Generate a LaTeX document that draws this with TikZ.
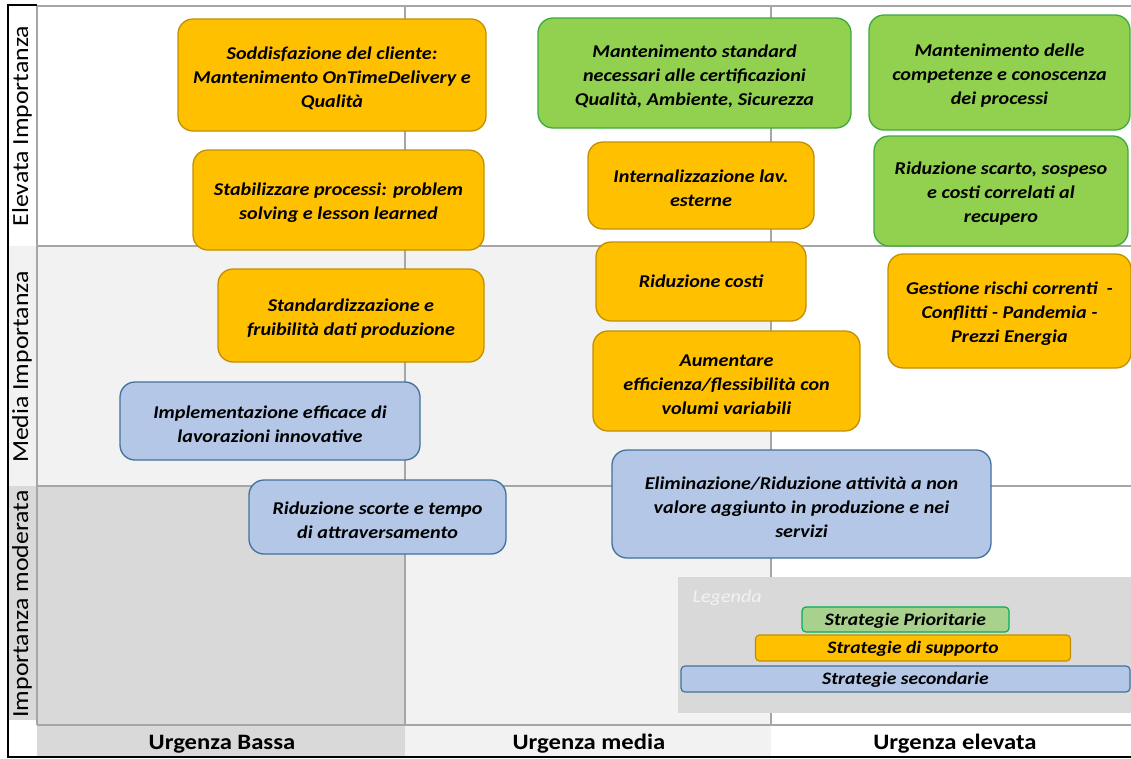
\documentclass[tikz,border=0pt]{standalone}
\usepackage{fontspec}
\setmainfont[FakeStretch=1.12]{Carlito}
\definecolor{gridline}{HTML}{A6A6A6}
\definecolor{bgdark}{HTML}{D9D9D9}
\definecolor{bglight}{HTML}{F2F2F2}
\definecolor{orfill}{HTML}{FFC000}
\definecolor{ordraw}{HTML}{C09000}
\definecolor{grfill}{HTML}{92D050}
\definecolor{grdraw}{HTML}{3DAA3D}
\definecolor{blfill}{HTML}{B4C7E7}
\definecolor{bldraw}{HTML}{41719C}
\definecolor{lgfill}{HTML}{A9D18E}
\definecolor{lgdraw}{HTML}{00B050}
% extra room above the first line of a card, so its text sits a little lower
\newcommand\cardstrut{\rule{0pt}{18.5pt}}
\tikzset{
  card/.style={rounded corners=15pt, line width=1.3pt, inner sep=0pt, align=center,
    font=\fontsize{18}{24}\selectfont\bfseries\itshape},
  orcard/.style={card, fill=orfill, draw=ordraw},
  grcard/.style={card, fill=grfill, draw=grdraw},
  blcard/.style={card, fill=blfill, draw=bldraw},
  legbar/.style={rounded corners=4pt, line width=1.2pt, inner sep=0pt,
    font=\fontsize{17.5}{17.5}\selectfont\bfseries\itshape},
  rowlabel/.style={rotate=90, font=\fontsize{23}{23}\selectfont},
  collabel/.style={font=\fontsize{22}{22}\selectfont\bfseries},
  grid/.style={draw=gridline, line width=2pt},
}
\begin{document}
\begin{tikzpicture}[x=1pt, y=-1pt]
\useasboundingbox (0,0) rectangle (1131,758);
% cell backgrounds
\fill[bglight] (37,246) rectangle (771,486);
\fill[bglight] (405,486) rectangle (771,725);
\fill[bgdark] (37,486) rectangle (405,725);
% label column and label row backgrounds
\fill[bglight] (8,246) rectangle (37,486);
\fill[bgdark] (8,486) rectangle (37,720);
\fill[bgdark] (37,725) rectangle (405,757);
\fill[bglight] (405,725) rectangle (771,757);
% grid
\draw[grid] (37,6) -- (1131,6);
\draw[grid] (37,6) -- (37,725);
\draw[grid] (37,725) -- (1131,725);
\draw[grid] (405,6) -- (405,725);
\draw[grid] (771,6) -- (771,725);
\draw[grid] (37,246) -- (1131,246);
\draw[grid] (37,486) -- (1131,486);
% outer frame
\draw[line width=1.5pt] (37,5) -- (8,5) -- (8,757) -- (1131,757);
% axis labels
\node[rowlabel] (r1) at (22,126) {Elevata Importanza};
\node[rowlabel] (r2) at (22,367) {Media Importanza};
\node[rowlabel] (r3) at (22,604) {Importanza moderata};
\node[collabel] (c1) at (222,744) {Urgenza Bassa};
\node[collabel] (c2) at (589,744) {Urgenza media};
\node[collabel] (c3) at (955,744) {Urgenza elevata};
% legend
\fill[bgdark] (678,577) rectangle (1131,713);
\node[anchor=west, text=bglight, font=\fontsize{18}{18}\selectfont\itshape] (leg) at (689,598) {Legenda};
\node[legbar, fill=lgfill, draw=lgdraw, minimum width=207pt, minimum height=25pt] (l1) at (905.5,619.5) {\rule{0pt}{14pt}Strategie Prioritarie};
\node[legbar, fill=orfill, draw=ordraw, minimum width=315pt, minimum height=26pt] (l2) at (913,648) {\rule{0pt}{14pt}Strategie di supporto};
\node[legbar, fill=blfill, draw=bldraw, minimum width=449pt, minimum height=26pt] (l3) at (905.5,679) {\rule{0pt}{14pt}Strategie secondarie};
% strategy cards
\node[orcard, minimum width=308pt, minimum height=112pt] (sod) at (332,75) {\cardstrut Soddisfazione del cliente:\\Mantenimento OnTimeDelivery e\\Qualità};
\node[orcard, minimum width=291pt, minimum height=100pt] (stab) at (338.5,200) {\cardstrut Stabilizzare processi: problem\\solving e lesson learned};
\node[grcard, minimum width=313pt, minimum height=110pt] (mstd) at (694.5,73) {\cardstrut Mantenimento standard\\necessari alle certificazioni\\Qualità, Ambiente, Sicurezza};
\node[grcard, minimum width=261pt, minimum height=115pt] (mcomp) at (999.5,72.5) {\cardstrut Mantenimento delle\\competenze e conoscenza\\dei processi};
\node[orcard, minimum width=226pt, minimum height=87pt] (intern) at (701,185.5) {\cardstrut Internalizzazione lav.\\esterne};
\node[grcard, minimum width=254pt, minimum height=110pt] (scarto) at (1001,191) {\cardstrut Riduzione scarto, sospeso\\e costi correlati al\\recupero};
\node[orcard, minimum width=210pt, minimum height=79pt] (costi) at (701,281.5) {Riduzione costi};
\node[orcard, minimum width=243pt, minimum height=114pt] (rischi) at (1009.5,311) {\cardstrut Gestione rischi correnti~~-\\Conflitti - Pandemia -\\Prezzi Energia};
\node[orcard, minimum width=266pt, minimum height=93pt] (stdz) at (351,315.5) {\cardstrut Standardizzazione e\\fruibilità dati produzione};
\node[orcard, minimum width=267pt, minimum height=100pt] (aum) at (726.5,381) {\cardstrut Aumentare\\efficienza/flessibilità con\\volumi variabili};
\node[blcard, minimum width=300pt, minimum height=78pt] (impl) at (270,421) {\cardstrut Implementazione efficace di\\lavorazioni innovative};
\node[blcard, minimum width=257pt, minimum height=74pt] (scorte) at (377.5,517) {\cardstrut Riduzione scorte e tempo\\di attraversamento};
\node[blcard, minimum width=379pt, minimum height=108pt] (elim) at (801.5,504) {\cardstrut Eliminazione/Riduzione attività a non\\valore aggiunto in produzione e nei\\servizi};
\end{tikzpicture}
\end{document}
